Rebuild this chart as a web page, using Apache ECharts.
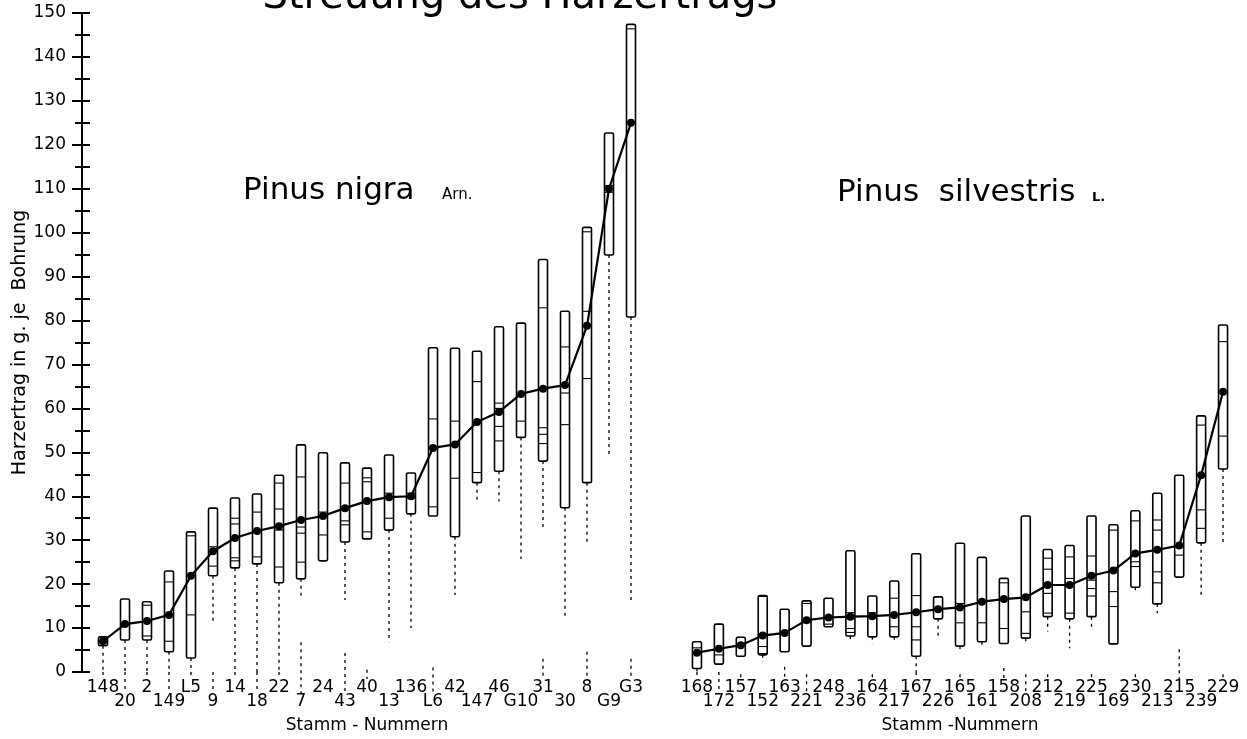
<!DOCTYPE html>
<html>
<head>
<meta charset="utf-8">
<script src="https://cdn.jsdelivr.net/npm/echarts@6.0.0/dist/echarts.min.js"></script>
<style>
html,body{margin:0;padding:0;background:#fff;}
#chart{width:1247px;height:739px;}
</style>
</head>
<body>
<div id="chart"></div>
<script>
// ---------- Pinus nigra Arn. ----------
const nigraCats = ['148','20','2','149','L5','9','14','18','22','7','24','43','40','13','136','L6','42','147','46','G10','31','30','8','G9','G3'];
const nigraTop = [8,16.6,16,23,31.9,37.3,39.6,40.5,44.8,51.7,49.9,47.6,46.4,49.4,45.3,73.8,73.7,73,78.6,79.4,93.9,82.1,101.2,122.7,147.4];
const nigraBottom = [6,7.3,7.3,4.6,3.2,21.9,23.7,24.6,20.3,21.2,25.3,29.6,30.3,32.3,36,35.5,30.8,43.1,45.7,53.4,48,37.4,43.1,94.9,80.8];
const nigraMean = [7,10.9,11.6,13,21.9,27.5,30.5,32.1,33.2,34.6,35.5,37.3,38.9,39.8,40,51,51.8,56.9,59.2,63.3,64.5,65.3,78.8,110,125];
const nigraMarks = [[7],[],[15.2,8.2],[20.5,7],[31,13],[28.5,24.1],[35,33.7,26,25.3],[36.4,26.2],[43,37.1,32.3,23.9],[44.4,33,31.6,25],[36.4,31.2],[43,34.4,33.5],[44.2,43.3,31.9],[40.7,39.6,35],[40.7,39.6],[57.6,37.6],[57.1,44.1],[66.1,45.4],[61.2,60,55.9,52.6],[57.1],[82.9,55.6,54.1,52],[74,63.5,56.3],[100.2,82.1,66.8],[110.7,109.2],[146.4]];
const nigraLow = [0,0,0,0,0,10.9,0,0,0,17,null,16.4,null,6.8,10,null,17.5,39,38.8,25.7,32.1,12.2,29.1,49.5,16.3];
const nigraGuide = [0,0,0,0,0,0,0,0,0,6.8,null,4.3,0.5,null,null,1,null,null,null,null,3,null,4.6,null,3];

// ---------- Pinus silvestris L. ----------
const silvCats = ['168','172','157','152','163','221','248','236','164','217','167','226','165','161','158','208','212','219','225','169','230','213','215','239','229'];
const silvTop = [6.9,10.9,7.9,17.4,14.3,16.2,16.8,27.6,17.3,20.7,26.9,17.1,29.3,26.1,21.3,35.5,27.9,28.8,35.5,33.5,36.7,40.7,44.8,58.3,79];
const silvBottom = [0.8,1.8,3.6,3.9,4.6,5.9,10.3,8.2,8,8,3.6,12.1,5.9,6.9,6.5,7.7,12.6,12.1,12.6,6.4,19.3,15.5,21.6,29.4,46.2];
const silvMean = [4.4,5.3,6.1,8.3,8.9,11.8,12.4,12.6,12.7,13,13.6,14.3,14.7,16,16.6,17,19.8,19.8,21.9,23.1,27,27.8,28.8,44.8,63.8];
const silvMarks = [[5.5],[3.9],[],[17.2,8.7,5.8,4.2],[],[15.6,11.3],[10.9],[13.5,9.9,9],[13.5],[16.8,10.3],[17.4,10.3,7.3],[],[15.6,11.2],[11.2],[20.3,9.9],[13.7,8.8],[25.9,23.4,17.9,13.4],[26.2,21.3,13.4],[26.4,20.9,19,17.3],[32.3,18.3,14.9],[34.4,25.1,24],[34.6,32.3,22.8,20.3],[26.6],[56.2,36.9,32.7],[75.2,53.7]];
const silvLow = [0,null,null,2.3,null,null,null,7.3,6.4,6.6,0,7.7,4.6,5.4,null,6.7,9.2,5.4,9.6,null,17.9,13.4,null,16.8,29.4];
const silvGuide = [0,0,-0.5,null,1.2,-0.5,null,null,-0.5,null,0,null,-0.5,null,0.9,-0.5,-0.5,null,-0.5,null,-0.5,null,5.2,null,-0.5];

// ---------- axis ----------
const yMin = 0, yMax = 150, yMajor = 10, yMinor = 5;

const FONT = 'DejaVu Sans';

function makeRender(top, bottom, marks, low, guide) {
  return function (params, api) {
    const i = params.dataIndex;
    const idx = api.value(0);
    const pTop = api.coord([idx, top[i]]);
    const pBot = api.coord([idx, bottom[i]]);
    const cx = pTop[0], w = 9;
    const endV = (i % 2) ? -4.8 : -1.6;
    const children = [];
    const dash = {stroke: '#000', lineWidth: 1.3, lineDash: [3, 4]};
    if (low[i] != null) {
      const pl = api.coord([idx, low[i]]);
      children.push({type: 'line', shape: {x1: cx, y1: pBot[1], x2: cx, y2: pl[1]}, style: dash});
    }
    if (guide[i] != null) {
      const pg = api.coord([idx, guide[i]]);
      const pe = api.coord([idx, endV]);
      children.push({type: 'line', shape: {x1: cx, y1: pg[1], x2: cx, y2: pe[1]}, style: dash});
    }
    children.push({type: 'rect', shape: {x: cx - w / 2, y: pTop[1], width: w, height: pBot[1] - pTop[1], r: 1.5},
      style: {fill: '#fff', stroke: '#000', lineWidth: 1.6}});
    marks[i].forEach(function (v) {
      const p = api.coord([idx, v]);
      children.push({type: 'line', shape: {x1: cx - w / 2, y1: p[1], x2: cx + w / 2, y2: p[1]},
        style: {stroke: '#000', lineWidth: 1.1}});
    });
    return {type: 'group', children: children};
  };
}

const labelFmt = function (v, i) { return (i % 2) ? '\n' + v : v; };
const xLabel = {interval: 0, formatter: labelFmt, fontFamily: FONT, fontSize: 17, color: '#000', lineHeight: 14, margin: 9};

const chart = echarts.init(document.getElementById('chart'));
chart.setOption({
  animation: false,
  backgroundColor: '#fff',
  grid: [
    {left: 92, width: 550, top: 13, bottom: 67},
    {left: 686, width: 548, top: 13, bottom: 67}
  ],
  xAxis: [
    {type: 'category', gridIndex: 0, data: nigraCats, boundaryGap: true,
      axisLine: {show: false}, axisTick: {show: false}, axisLabel: xLabel,
      name: 'Stamm - Nummern', nameLocation: 'middle', nameGap: 45,
      nameTextStyle: {fontFamily: FONT, fontSize: 17, color: '#000'}},
    {type: 'category', gridIndex: 1, data: silvCats, boundaryGap: true,
      axisLine: {show: false}, axisTick: {show: false}, axisLabel: xLabel,
      name: 'Stamm -Nummern', nameLocation: 'middle', nameGap: 45,
      nameTextStyle: {fontFamily: FONT, fontSize: 17, color: '#000'}}
  ],
  yAxis: [
    {type: 'value', gridIndex: 0, position: 'left', offset: 10, min: yMin, max: yMax, interval: yMajor,
      axisLine: {show: true, lineStyle: {color: '#000', width: 2}},
      axisTick: {show: true, inside: false, length: 10, lineStyle: {color: '#000', width: 2}},
      minorTick: {show: true, splitNumber: 2, length: 7, lineStyle: {color: '#000', width: 2}},
      axisLabel: {fontFamily: FONT, fontSize: 17, color: '#000', margin: 16},
      splitLine: {show: false},
      name: 'Harzertrag in g. je  Bohrung', nameLocation: 'middle', nameGap: 48,
      nameTextStyle: {fontFamily: FONT, fontSize: 19, color: '#000'}},
    {type: 'value', gridIndex: 0, position: 'left', offset: 10, min: yMin, max: yMax, interval: yMinor,
      axisLine: {show: false},
      axisTick: {show: true, inside: true, length: 8, lineStyle: {color: '#000', width: 2}},
      axisLabel: {show: false}, splitLine: {show: false}},
    {type: 'value', gridIndex: 1, min: yMin, max: yMax, interval: yMajor, show: false, splitLine: {show: false}}
  ],
  graphic: [
    {type: 'text', x: 520, y: 18, z: 10, style: {text: 'Streuung des Harzertrags', fontFamily: FONT, fontSize: 40, fill: '#000', align: 'center', verticalAlign: 'bottom'}},
    {type: 'text', x: 243, y: 206, z: 10, style: {text: 'Pinus nigra', fontFamily: FONT, fontSize: 31, fill: '#000', align: 'left', verticalAlign: 'bottom'}},
    {type: 'text', x: 442, y: 203, z: 10, style: {text: 'Arn.', fontFamily: FONT, fontSize: 15, fill: '#000', align: 'left', verticalAlign: 'bottom'}},
    {type: 'text', x: 837, y: 208, z: 10, style: {text: 'Pinus  silvestris', fontFamily: FONT, fontSize: 31, fill: '#000', align: 'left', verticalAlign: 'bottom'}},
    {type: 'text', x: 1092, y: 204, z: 10, style: {text: 'L.', fontFamily: FONT, fontSize: 13, fontWeight: 'bold', fill: '#000', align: 'left', verticalAlign: 'bottom'}}
  ],
  series: [
    {type: 'custom', xAxisIndex: 0, yAxisIndex: 0, clip: false, z: 2,
      renderItem: makeRender(nigraTop, nigraBottom, nigraMarks, nigraLow, nigraGuide),
      data: nigraCats.map(function (c, i) { return [i, nigraTop[i], nigraBottom[i]]; })},
    {type: 'line', xAxisIndex: 0, yAxisIndex: 0, data: nigraMean, z: 5,
      symbol: 'circle', symbolSize: 8, itemStyle: {color: '#000'}, lineStyle: {color: '#000', width: 2.2}},
    {type: 'custom', xAxisIndex: 1, yAxisIndex: 2, clip: false, z: 2,
      renderItem: makeRender(silvTop, silvBottom, silvMarks, silvLow, silvGuide),
      data: silvCats.map(function (c, i) { return [i, silvTop[i], silvBottom[i]]; })},
    {type: 'line', xAxisIndex: 1, yAxisIndex: 2, data: silvMean, z: 5,
      symbol: 'circle', symbolSize: 8, itemStyle: {color: '#000'}, lineStyle: {color: '#000', width: 2.2}}
  ]
});
</script>
</body>
</html>
